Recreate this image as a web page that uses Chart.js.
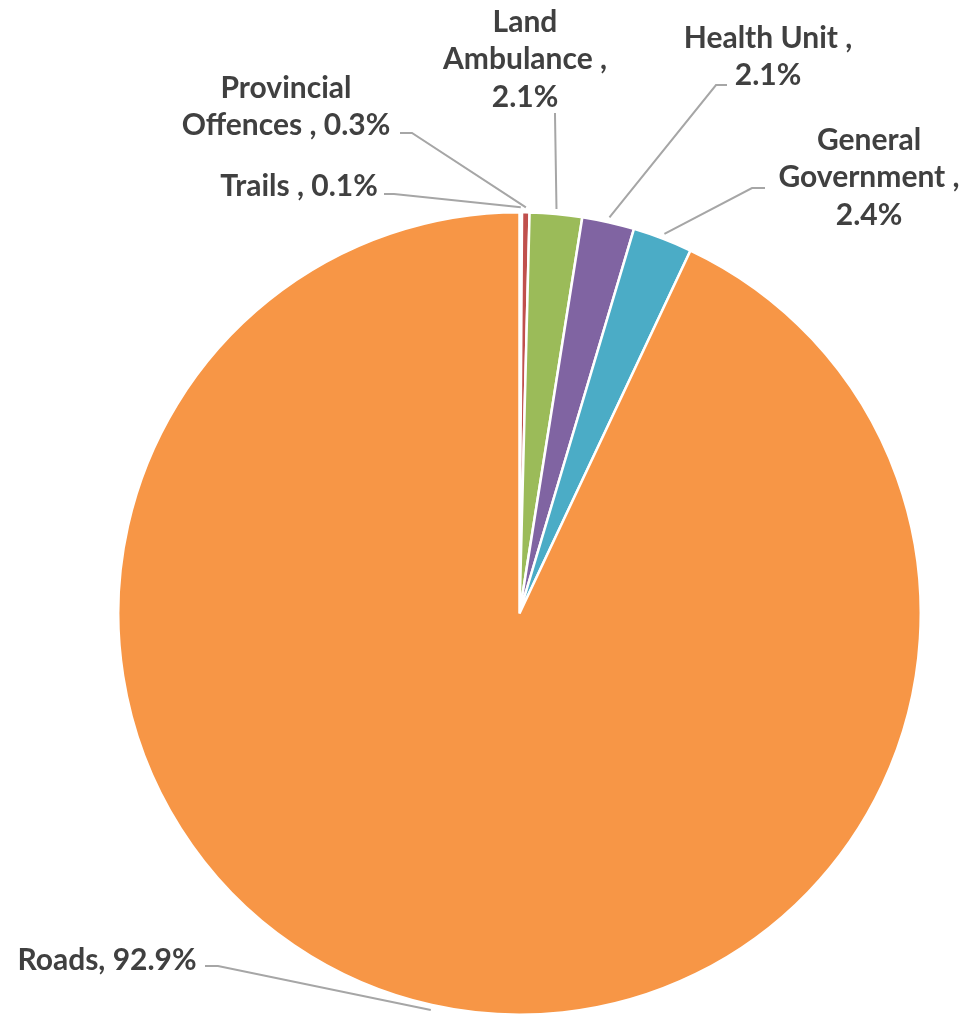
<!DOCTYPE html>
<html><head><meta charset="utf-8">
<script src="https://cdn.jsdelivr.net/npm/chart.js@4"></script>
<style>html,body{margin:0;padding:0;background:#fff}#wrap{width:972px;height:1018px;position:relative}</style>
</head><body><div id="wrap"><canvas id="c" width="972" height="1018"></canvas></div>
<script>
const categories = ["Trails", "Provincial Offences", "Land Ambulance", "Health Unit", "General Government", "Roads"];
const shares = [0.1, 0.3, 2.1, 2.1, 2.4, 92.9];
const colors = ["#4F81BD", "#C0504D", "#9BBB59", "#8064A2", "#4BACC6", "#F79646"];
const labelLines = [
  ["Trails , 0.1%"],
  ["Provincial", "Offences , 0.3%"],
  ["Land", "Ambulance ,", "2.1%"],
  ["Health Unit ,", "2.1%"],
  ["General", "Government ,", "2.4%"],
  ["Roads, 92.9%"]
];
// label layout: text center x, first line y, elbow start point
const labelLayout = [
  {x: 299, y: 186, align: "center", elbow: [[384, 194], [394, 194]]},
  {x: 286, y: 88, align: "center", elbow: [[400, 133], [412, 133]]},
  {x: 525, y: 22, align: "center", elbow: [[555, 113], [555, 115]]},
  {x: 768, y: 38, align: "center", elbow: [[727, 85], [716, 85]]},
  {x: 869, y: 140, align: "center", elbow: [[765, 188], [752, 188]]},
  {x: 107, y: 960, align: "center", elbow: [[205, 966], [218, 966]]}
];
const FONT = "bold 30px 'Lato', 'Open Sans', sans-serif";
const LH = 37.5;

const labelPlugin = {
  id: "labels",
  afterDraw(chart) {
    const ctx = chart.ctx;
    const meta = chart.getDatasetMeta(0);
    ctx.save();
    meta.data.forEach((arc, i) => {
      const p = arc.getProps(["x", "y", "startAngle", "endAngle", "outerRadius"], true);
      const mid = (p.startAngle + p.endAngle) / 2;
      const r = p.outerRadius + 5;
      const ex = p.x + Math.cos(mid) * r, ey = p.y + Math.sin(mid) * r;
      const L = labelLayout[i];
      ctx.strokeStyle = "#A6A6A6";
      ctx.lineWidth = 2;
      ctx.beginPath();
      ctx.moveTo(L.elbow[0][0], L.elbow[0][1]);
      ctx.lineTo(L.elbow[1][0], L.elbow[1][1]);
      ctx.lineTo(ex, ey);
      ctx.stroke();
      ctx.fillStyle = "#404040";
      ctx.font = FONT;
      ctx.textAlign = L.align;
      ctx.textBaseline = "middle";
      labelLines[i].forEach((t, k) => ctx.fillText(t, L.x, L.y + k * LH));
    });
    ctx.restore();
  }
};

new Chart(document.getElementById("c"), {
  type: "pie",
  data: {
    labels: categories,
    datasets: [{data: shares, backgroundColor: colors, borderColor: "#FFFFFF", borderWidth: 2.5}]
  },
  options: {
    responsive: false,
    animation: false,
    layout: {padding: {top: 211, bottom: 2, left: 67, right: 0}},
    plugins: {legend: {display: false}, tooltip: {enabled: false}}
  },
  plugins: [labelPlugin]
});
</script></body></html>
